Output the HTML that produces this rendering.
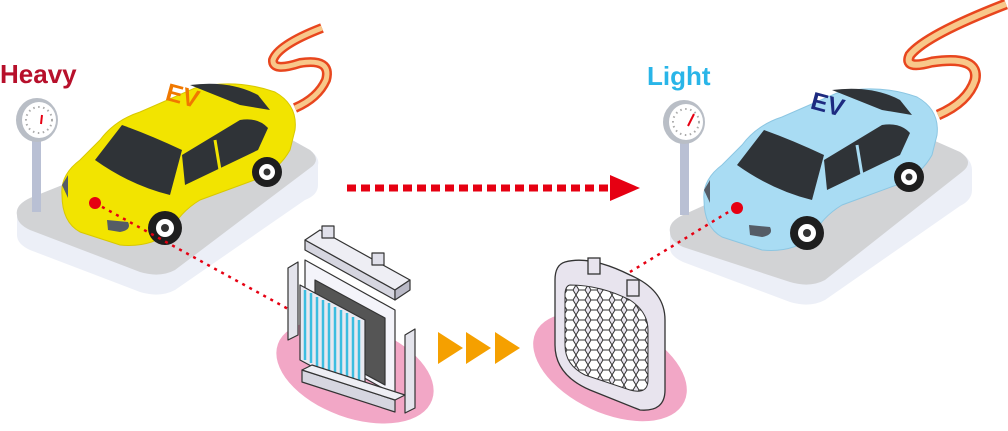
<!DOCTYPE html>
<html><head><meta charset="utf-8"><style>
html,body{margin:0;padding:0;background:#fff;}
svg{display:block;}
text{font-family:"Liberation Sans","DejaVu Sans",sans-serif;font-weight:bold;}
</style></head><body>
<svg width="1008" height="431" viewBox="0 0 1008 431" xmlns="http://www.w3.org/2000/svg">
<defs>
<g id="car">
  <path d="M62,195 Q60,175 80,160 L100,140 Q115,120 140,112 L195,88 Q235,78 275,92 Q298,105 295,130 L290,150 Q280,168 260,178 L200,200 Q180,212 170,232 Q150,248 120,245 L80,232 Q62,222 62,195 Z" fill="var(--body)" stroke="var(--edge)" stroke-width="1"/>
  <path d="M95,160 L122,125 Q150,135 182,150 L170,195 Q130,185 95,160 Z" fill="#2f3337"/>
  <path d="M190,85 Q230,80 258,95 L270,110 L240,105 Z" fill="#2f3337"/>
  <path d="M182,155 L240,120 Q258,117 268,128 L258,150 L185,185 Z" fill="#2f3337"/>
  <path d="M215,140 L220,170" stroke="var(--body)" stroke-width="3"/>
  <circle cx="165" cy="228" r="17" fill="#1e1e1e"/><circle cx="165" cy="228" r="9" fill="#fff"/><circle cx="165" cy="228" r="4" fill="#333"/>
  <circle cx="267" cy="172" r="15" fill="#1e1e1e"/><circle cx="267" cy="172" r="8" fill="#fff"/><circle cx="267" cy="172" r="3.5" fill="#333"/>
  <path d="M107,220 L128,222 Q132,230 120,232 L108,230 Z" fill="#555c66"/>
  <path d="M62,185 L68,175 L68,198 Z" fill="#555c66"/>
  <circle cx="95" cy="203" r="6" fill="#e60012"/>
</g>
</defs>
<!-- left platform -->
<path d="M17,215 Q15,205 30,198 L220,122 Q240,115 260,122 L310,150 Q320,158 318,165 L318,185 Q318,195 305,200 L175,290 Q160,298 140,292 L30,250 Q17,244 17,235 Z" fill="#eceff7"/>
<path d="M17,215 Q15,205 30,198 L220,122 Q240,115 260,122 L310,150 Q322,160 310,168 L175,270 Q160,278 140,272 L30,230 Q17,224 17,215 Z" fill="#d2d3d5"/>
<!-- right platform -->
<path d="M670,232 Q668,222 683,215 L870,130 Q890,123 910,130 L960,152 Q972,160 972,170 L972,190 Q972,200 960,206 L825,300 Q810,308 790,302 L683,262 Q670,256 670,248 Z" fill="#eceff7"/>
<path d="M670,232 Q668,222 683,215 L870,130 Q890,123 910,130 L960,152 Q975,162 962,172 L825,280 Q810,288 790,282 L683,247 Q670,241 670,232 Z" fill="#d2d3d5"/>
<!-- gauges -->
<rect x="32" y="140" width="9" height="72" fill="#b9c0d4"/>
<ellipse cx="37" cy="120" rx="21" ry="22" fill="#b9bec6"/><ellipse cx="39" cy="120" rx="17" ry="18" fill="#fff"/>
<circle cx="39" cy="120" r="13" fill="none" stroke="#aaa" stroke-width="2" stroke-dasharray="1.5,3.5"/>
<path d="M41,124 L42,115" stroke="#e60012" stroke-width="2"/>
<rect x="680" y="143" width="9" height="72" fill="#b9c0d4"/>
<ellipse cx="684" cy="122" rx="21" ry="22" fill="#b9bec6"/><ellipse cx="686" cy="122" rx="17" ry="18" fill="#fff"/>
<circle cx="686" cy="122" r="13" fill="none" stroke="#aaa" stroke-width="2" stroke-dasharray="1.5,3.5"/>
<path d="M688,126 L694,114" stroke="#e60012" stroke-width="2"/>
<!-- S curves -->
<path d="M322,28 Q278,45 273,60 Q272,72 300,63 Q332,58 326,80 Q318,98 295,108" fill="none" stroke="#e8461e" stroke-width="10" stroke-linecap="butt"/>
<path d="M322,28 Q278,45 273,60 Q272,72 300,63 Q332,58 326,80 Q318,98 295,108" fill="none" stroke="#f8c88a" stroke-width="5" stroke-linecap="butt"/>
<path d="M1006,4 Q926,35 910,55 Q903,70 932,62 Q980,55 975,80 Q968,102 938,115" fill="none" stroke="#e8461e" stroke-width="11" stroke-linecap="butt"/>
<path d="M1006,4 Q926,35 910,55 Q903,70 932,62 Q980,55 975,80 Q968,102 938,115" fill="none" stroke="#f8c88a" stroke-width="6" stroke-linecap="butt"/>
<!-- cars -->
<use href="#car" style="--body:#f2e400;--edge:#d8c800"/>
<use href="#car" transform="translate(642,5)" style="--body:#a9dcf3;--edge:#8cc6e2"/>
<!-- labels -->
<text x="0" y="83" font-size="26" fill="#b7102b">Heavy</text>
<text x="647" y="85" font-size="26" fill="#29b5e8">Light</text>
<text x="166" y="103" font-size="25" fill="#f07800" transform="rotate(15 178 95)" font-weight="normal">EV</text>
<text x="812" y="112" font-size="25" fill="#1d2a80" transform="rotate(15 825 100)">EV</text>
<!-- dotted lines -->
<path d="M95,203 L290,310" stroke="#e60012" stroke-width="2.5" stroke-dasharray="3,5"/>
<path d="M735,208 L625,275" stroke="#e60012" stroke-width="2.5" stroke-dasharray="3,5"/>
<path d="M347,188 L612,188" stroke="#e60012" stroke-width="7" stroke-dasharray="9,5"/>
<path d="M610,175 L640,188 L610,201 Z" fill="#e60012"/>
<!-- orange arrows -->
<path d="M438,332 L463,348 L438,364 Z M466,332 L491,348 L466,364 Z M495,332 L520,348 L495,364 Z" fill="#f5a000"/>
<!-- pink ellipses -->
<ellipse cx="355" cy="372" rx="82" ry="46" transform="rotate(20 355 372)" fill="#f2a7c6"/>
<ellipse cx="610" cy="367" rx="82" ry="46" transform="rotate(25 610 367)" fill="#f2a7c6"/>
<!-- radiator left -->
<g stroke="#333" stroke-width="1.2" stroke-linejoin="round">
<path d="M305,240 L395,290 L395,300 L305,250 Z" fill="#d6d6e0"/>
<path d="M305,240 L320,230 L410,280 L395,290 Z" fill="#eeeef4"/>
<path d="M395,290 L410,280 L410,290 L395,300 Z" fill="#b9b9c6"/>
<rect x="322" y="226" width="12" height="12" fill="#e0e0ea"/><rect x="372" y="253" width="12" height="12" fill="#e0e0ea"/>
<path d="M305,260 L395,310 L395,395 L305,345 Z" fill="#f4f4fa"/>
<path d="M315,280 L385,318 L385,385 L315,347 Z" fill="#555"/>
<path d="M300,285 L365,320 L365,395 L300,360 Z" fill="#e8e8f0"/>
<g stroke="#3cbde0" stroke-width="2.5">
<path d="M305,290 V360 M311,293 V363 M317,297 V367 M323,300 V370 M329,303 V373 M335,307 V377 M341,310 V380 M347,313 V383 M353,317 V387 M359,320 V390"/></g>
<path d="M288,268 L298,262 L298,335 L288,340 Z" fill="#e4e4ec"/>
<path d="M405,335 L415,329 L415,408 L405,413 Z" fill="#e4e4ec"/>
<path d="M302,370 L395,400 L395,412 L302,382 Z" fill="#d6d6e0"/>
<path d="M302,370 L312,365 L405,395 L395,400 Z" fill="#eeeef4"/>
</g>
<!-- radiator right -->
<g stroke="#333" stroke-width="1.3">
<path d="M565,262 Q590,255 630,275 Q665,290 665,320 L665,390 Q665,412 640,410 L590,390 Q555,375 555,345 L555,280 Q555,265 565,262 Z" fill="#e8e4ee"/>
<rect x="588" y="258" width="12" height="16" fill="#e8e4ee"/><rect x="627" y="280" width="12" height="16" fill="#e8e4ee"/>
</g>
<defs><pattern id="hex" width="12" height="10" patternUnits="userSpaceOnUse"><path d="M0,5 L3,0 H9 L12,5 L9,10 H3 Z" fill="#fff" stroke="#333" stroke-width="1"/></pattern></defs>
<path d="M570,285 Q600,285 630,300 Q648,312 648,330 L648,380 Q648,395 630,390 L585,375 Q565,365 565,345 L565,295 Q565,286 570,285 Z" fill="url(#hex)" stroke="#333"/>
</svg>
</body></html>
